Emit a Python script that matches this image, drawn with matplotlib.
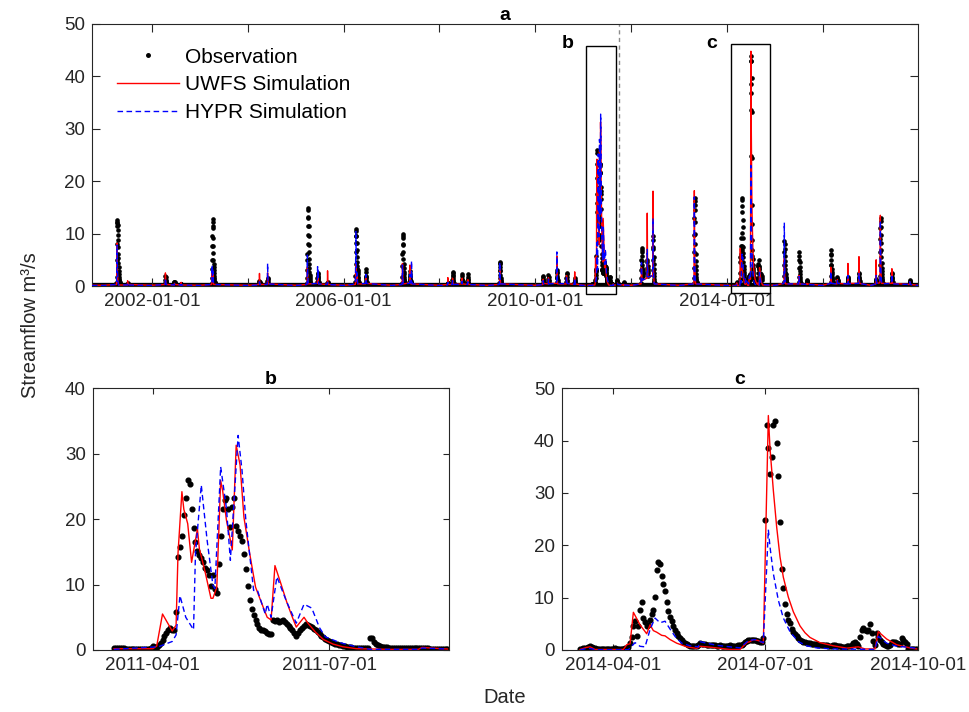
import numpy as np
import pandas as pd
import matplotlib
matplotlib.use('Agg')
import matplotlib.pyplot as plt
import matplotlib.dates as mdates
from matplotlib.patches import Rectangle

plt.rcParams['font.family'] = ['Liberation Sans', 'DejaVu Sans']

# ---------------- Panel b window (2011) ----------------
b_ref = '2011-03-01'
b_obs_start = '2011-03-12'
b_obs = [0.3, 0.3, 0.3, 0.25, 0.25, 0.25, 0.2, 0.2, 0.2, 0.2, 0.2, 0.2, 0.2, 0.2, 0.2, 0.2, 0.2, 0.2, 0.2,
         0.3, 0.6, 0.5, 0.5, 0.8, 1.1, 1.6, 2.1, 2.6, 3.0, 3.3, 3.0, 3.1, 5.8, 14.2, 15.8, 17.5, 20.6,
         23.2, 26.0, 25.4, 21.6, 18.7, 16.5, 15.1, 14.5, 14.0, 13.5, 12.6, 12.2, 11.5, 9.8, 11.5, 9.3,
         8.7, 13.2, 17.5, 21.6, 22.9, 23.2, 21.5, 18.8, 21.8, 23.3, 18.9, 18.2, 17.5, 16.6, 14.7, 12.4,
         9.8, 7.6, 6.2, 5.4, 4.6, 4.0, 3.3, 3.0, 3.0, 2.9, 2.6, 2.5, 2.4, 4.6, 4.4, 4.6, 4.3, 4.5, 4.6,
         4.3, 4.0, 3.7, 3.3, 3.0, 2.6, 2.2, 2.6, 3.0, 3.4, 3.6, 3.9, 3.8, 3.7, 3.5, 3.2, 3.0, 2.7, 2.5,
         2.2, 2.0, 1.7, 1.5, 1.3, 1.2, 1.0, 0.9, 0.85, 0.8, 0.7, 0.6, 0.55, 0.5, 0.45, 0.4,
         0.35, 0.35, 0.3, 0.3, 0.3, 0.3, 0.3, 0.3, 0.3, 1.8, 1.8, 1.2, 0.9, 0.7, 0.6, 0.5, 0.45, 0.4,
         0.4, 0.35, 0.3, 0.3, 0.3, 0.3, 0.3, 0.3, 0.3, 0.3, 0.3, 0.3, 0.25, 0.25, 0.25, 0.25, 0.25,
         0.25, 0.25, 0.25, 0.25, 0.25, 0.2, 0.2, 0.2, 0.2, 0.2, 0.2, 0.2, 0.2, 0.2, 0.2]
b_uwfs_day = [11, 31, 33, 36, 41, 43, 44, 46, 47, 49, 51, 54, 55, 58, 61, 62, 64, 66, 67, 69, 72, 74,
              76, 78, 81, 84, 88, 90, 92, 94, 97, 100, 103, 105, 109, 111, 115, 119, 124, 129, 136,
              153, 168, 170, 174, 183]
b_uwfs = [0.2, 0.2, 0.6, 5.5, 2.9, 3.8, 14.8, 24.2, 21.5, 19.3, 13.4, 18.5, 15.5, 11.9, 7.9, 7.9,
          9.6, 25.9, 24.4, 19.8, 15.3, 31.3, 28.3, 20.3, 14.7, 9.6, 6.5, 5.0, 4.6, 12.9, 10.2, 7.4,
          5.0, 3.5, 5.0, 4.1, 2.7, 1.6, 0.9, 0.5, 0.2, 0.1, 0.1, 0.4, 0.3, 0.15]
b_hypr_day = [11, 34, 41, 43, 45, 48, 52, 53, 56, 59, 62, 63, 66, 69, 71, 75, 77, 79, 83, 85, 89, 90,
              92, 95, 100, 105, 109, 113, 117, 120, 126, 129, 136, 143, 168, 170, 183]
b_hypr = [0.1, 0.5, 1.3, 2.3, 8.3, 5.0, 3.1, 14.7, 25.2, 16.8, 9.9, 9.4, 28.0, 21.6, 13.7, 32.8,
          27.5, 19.8, 9.1, 9.1, 5.5, 7.0, 5.0, 11.2, 7.4, 4.1, 7.0, 6.4, 3.4, 2.0, 1.3, 1.0, 0.5,
          0.1, 0.1, 0.3, 0.15]

# ---------------- Panel c window (2014) ----------------
c_ref = '2014-03-01'
c_obs_start = '2014-03-12'
c_obs = [0.2, 0.2, 0.3, 0.3, 0.4, 0.5, 0.7, 0.6, 0.4,
         0.3, 0.2, 0.2, 0.2, 0.2, 0.2, 0.2, 0.2, 0.2, 0.2, 0.2, 0.2, 0.3, 0.2, 0.2, 0.2, 0.2, 0.2, 0.3, 0.3,
         0.6, 1.3, 2.5, 4.5, 5.5, 2.7, 4.6, 7.7, 9.1, 6.1, 5.3, 4.5, 4.8, 5.7, 6.8, 7.7, 10.1, 15.2,
         16.8, 16.4, 14.1, 12.6, 11.3, 9.2, 7.5, 6.3, 5.5, 4.6, 3.9, 3.2, 2.7, 2.2, 1.9, 1.6, 1.4, 1.2,
         1.0, 0.8, 0.8, 0.8, 0.8, 0.8, 1.0, 1.3, 1.2, 1.2,
         1.1, 1.0, 1.0, 1.0, 0.9, 0.9, 0.9, 0.8, 0.8, 0.9, 0.8, 0.8, 0.7, 0.8, 0.8, 0.9, 0.8, 0.7, 0.7,
         0.8, 0.9, 0.9, 1.0, 1.2,
         1.5, 1.7, 1.9, 2.0, 2.0, 2.0, 1.9, 1.8, 1.7, 1.6, 1.5, 2.2,
         24.8, 42.9, 38.6, 33.6, 36.9, 42.9, 43.8, 39.6, 33.3, 24.5, 15.4, 11.9, 8.7, 6.8, 5.8, 5.1,
         4.1, 3.5, 3.0, 2.7, 2.3, 2.0, 1.8, 1.6, 1.5, 1.4, 1.3, 1.3, 1.2, 1.2, 1.1, 1.1, 1.0, 1.0, 1.0,
         0.9, 0.9, 0.9, 0.8, 0.8, 0.8, 0.9, 0.9, 0.8, 0.7, 0.7, 0.6, 0.6, 0.6, 0.7, 0.7, 0.8, 1.0,
         1.3, 1.5, 1.2, 0.8, 2.4, 3.9, 4.2, 3.9, 3.7, 3.9, 4.9, 3.3, 1.7, 1.0, 3.2, 2.5, 2.0, 1.6,
         1.2, 0.9, 0.8, 0.8, 0.9, 1.6, 1.6, 1.5, 1.3, 1.2, 1.2, 2.2, 2.0, 1.6, 1.2, 0.2,
         0.1, 0.1, 0.1, 0.1, 0.1]
c_uwfs_day = [11, 15, 17, 20, 37, 39, 41, 43, 47, 51, 53, 55, 57, 60, 62, 65, 69, 75, 81, 83, 87, 93,
              101, 107, 111, 113, 115, 118, 121, 124, 125, 127, 129, 131, 133, 136, 139, 143, 146,
              149, 155, 163, 171, 178, 182, 188, 190, 195, 201, 209, 213]
c_uwfs = [0.1, 0.5, 0.6, 0.1, 0.1, 1.0, 1.2, 7.2, 4.8, 3.1, 4.8, 3.7, 3.4, 2.8, 2.7, 2.0, 1.3, 0.6,
          0.3, 0.7, 0.6, 0.4, 0.1, 0.1, 1.4, 1.6, 2.0, 1.8, 1.3, 44.8, 38.5, 30.5, 23.5, 17.8, 13.9,
          10.1, 7.3, 4.6, 3.3, 2.4, 1.4, 0.8, 0.35, 0.6, 0.2, 0.2, 3.5, 2.1, 1.0, 0.4, 0.2]
c_hypr_day = [11, 15, 17, 20, 40, 44, 47, 50, 53, 56, 59, 62, 65, 68, 72, 77, 82, 83, 87, 93, 101,
              107, 112, 116, 121, 124, 125, 127, 130, 133, 137, 142, 147, 153, 163, 188, 190, 195,
              201, 209, 213]
c_hypr = [0.0, 0.3, 0.3, 0.05, 0.05, 1.4, 0.7, 0.6, 3.9, 6.1, 5.2, 5.5, 4.0, 2.6, 1.3, 0.8, 0.6,
          1.6, 1.3, 0.9, 0.6, 0.4, 1.8, 2.0, 1.4, 23.0, 19.7, 14.6, 9.5, 6.1, 3.5, 1.6, 0.8, 0.4,
          0.2, 0.1, 2.6, 1.3, 0.7, 0.5, 0.3]

# ---------------- Panel a: other flood events (start date, daily values) ----------------
a_event_start = ['2001-04-06', '2001-06-28', '2002-04-12', '2002-06-20', '2002-08-10', '2003-04-02',
                 '2004-03-29', '2004-05-30', '2005-03-28', '2005-06-15', '2005-08-30', '2006-04-01',
                 '2006-06-18', '2007-03-23', '2007-05-20', '2008-03-04', '2008-04-09', '2008-06-21',
                 '2008-08-04', '2009-04-03', '2010-03-01', '2010-04-10', '2010-06-13', '2010-08-26',
                 '2010-10-27', '2011-09-17', '2011-11-05', '2012-03-18', '2012-05-02', '2012-06-15',
                 '2013-04-24', '2015-03-12', '2015-07-03', '2015-09-01', '2016-03-01', '2016-04-20',
                 '2016-07-10', '2016-10-02', '2017-02-10', '2017-03-12', '2017-06-10', '2017-10-25']
a_event_obs = [
    [0.6, 1.7, 4.9, 8.1, 11.4, 12.6, 12.3, 12.0, 11.6, 10.7, 9.8, 8.8, 7.4, 6.2, 5.3, 4.4, 3.6, 2.9, 2.3, 1.8, 1.4, 1.1, 0.9, 0.7, 0.5, 0.4],
    [0.3, 0.5, 0.4],
    [0.5, 1.2, 2.0, 1.7, 1.2, 0.9, 0.7, 0.6, 0.5, 0.4],
    [0.5, 0.7, 0.8, 0.7, 0.6, 0.5],
    [0.3, 0.4, 0.3],
    [0.6, 1.5, 3.2, 5.0, 7.6, 9.6, 11.4, 12.7, 12.2, 11.0, 9.2, 7.6, 6.3, 5.0, 4.2, 3.6, 3.0, 2.5, 2.0, 1.6, 1.3, 1.0, 0.8, 0.6, 0.5],
    [0.4, 0.8, 1.0, 0.8, 0.6, 0.5],
    [0.5, 1.0, 1.6, 1.3, 0.9, 0.6, 0.4],
    [0.6, 1.6, 3.0, 5.0, 6.2, 8.1, 9.8, 11.4, 12.9, 14.8, 14.5, 13.2, 11.5, 9.6, 7.9, 6.4, 5.2, 4.2, 3.4, 2.7, 2.1, 1.7, 1.3, 1.0, 0.8, 0.6],
    [0.8, 1.5, 2.4, 2.0, 1.6, 2.2, 1.8, 1.3, 1.0, 0.8, 0.5],
    [0.4, 0.6, 0.8, 0.6, 0.5],
    [0.8, 2.0, 4.2, 6.5, 8.2, 9.6, 10.9, 10.5, 9.5, 8.2, 6.8, 5.6, 4.6, 3.8, 3.2, 2.8, 3.2, 3.0, 2.6, 2.2, 1.8, 1.5, 1.2, 1.0, 0.8, 0.6],
    [0.8, 1.8, 3.2, 2.6, 2.0, 1.5, 1.1, 0.8, 0.6],
    [0.6, 1.8, 3.8, 6.2, 8.1, 9.5, 9.9, 9.1, 7.8, 6.4, 5.2, 4.2, 3.4, 2.7, 2.2, 1.8, 1.4, 1.1, 0.9, 0.7, 0.5],
    [1.0, 2.0, 2.8, 2.2, 1.8, 1.4, 1.1, 0.9, 0.7, 0.6, 0.5],
    [0.4, 0.5, 0.6, 0.5],
    [0.5, 1.2, 2.0, 2.7, 2.5, 2.1, 1.6, 1.2, 0.9, 0.7, 0.5],
    [0.6, 1.2, 2.3, 1.9, 1.4, 1.0, 0.8, 0.5],
    [0.5, 1.4, 2.2, 1.7, 1.2, 0.8, 0.5],
    [0.6, 1.5, 3.0, 4.2, 4.6, 4.3, 3.6, 2.8, 2.1, 1.6, 1.2, 0.9, 0.7, 0.5],
    [0.5, 1.2, 2.0, 1.8, 1.3, 0.9, 0.6],
    [0.6, 1.4, 2.1, 1.7, 1.2, 0.9, 0.6],
    [0.8, 1.5, 2.5, 3.0, 2.6, 2.0, 1.5, 1.1, 0.8, 0.6],
    [0.7, 1.5, 2.5, 2.2, 1.7, 1.2, 0.9, 0.6],
    [0.5, 1.0, 1.5, 1.2, 0.8, 0.5],
    [0.5, 0.9, 1.1, 0.9, 0.6, 0.4],
    [0.5, 0.8, 0.6, 0.4],
    [0.6, 1.5, 3.0, 5.0, 6.5, 7.2, 6.8, 5.8, 4.8, 4.0, 3.4, 3.0, 2.6, 2.3, 2.0],
    [2.5, 3.5, 5.0, 4.5, 3.8, 3.2, 2.8, 2.4, 2.0],
    [3.0, 5.0, 7.5, 9.5, 8.8, 7.0, 5.5, 4.2, 3.2, 2.5, 1.9, 1.4, 1.0, 0.8, 0.6],
    [0.6, 1.5, 3.5, 6.5, 9.8, 13.0, 15.5, 16.7, 16.2, 14.5, 12.3, 10.0, 8.0, 6.2, 4.8, 3.8, 3.0, 2.3, 1.8, 1.4, 1.1, 0.8, 0.6, 0.5],
    [0.8, 2.0, 4.0, 6.5, 8.5, 8.0, 7.0, 5.8, 4.8, 4.0, 3.3, 2.7, 2.2, 1.8, 1.5, 1.3, 1.1, 1.0, 0.9, 0.8, 0.6],
    [0.8, 1.8, 3.5, 5.0, 6.4, 5.8, 4.6, 3.6, 2.8, 2.2, 1.7, 1.3, 1.0, 0.8, 0.6],
    [0.6, 1.0, 1.2, 1.0, 0.8, 0.6],
    [0.8, 2.0, 4.0, 6.0, 6.9, 6.2, 5.0, 4.0, 3.2, 2.6, 2.2, 1.8, 1.5, 1.3, 1.1, 0.9, 0.8],
    [0.8, 1.3, 1.8, 1.5, 1.2, 1.0, 0.8],
    [1.0, 1.3, 1.8, 1.6, 1.3, 1.0, 0.7],
    [0.8, 1.5, 2.5, 2.2, 1.8, 1.4, 1.1, 0.9, 0.6],
    [0.5, 0.9, 1.4, 1.2, 0.9, 0.7, 0.5],
    [0.8, 2.0, 4.0, 6.5, 9.0, 11.0, 12.9, 12.5, 11.3, 9.8, 8.2, 6.8, 5.5, 4.4, 3.5, 2.8, 2.2, 1.8, 1.4, 1.1, 0.9, 0.6],
    [0.8, 1.5, 2.5, 2.2, 1.7, 1.3, 1.0, 0.7],
    [0.4, 0.8, 1.2, 1.0, 0.7, 0.5],
]
a_event_uwfs = [
    [0.3, 0.8, 2.5, 6.0, 8.2, 6.5, 4.5, 3.2, 2.3, 1.7, 1.3, 1.0, 0.8, 0.6, 0.5, 0.4, 0.3, 0.2],
    [0.2, 0.6, 1.0, 0.6, 0.3],
    [0.3, 1.0, 2.5, 1.6, 1.0, 0.7, 0.5, 0.4, 0.3],
    [0.2, 0.4, 0.5, 0.4, 0.3],
    [0.2, 0.5, 0.7, 0.4, 0.2],
    [0.3, 1.0, 2.8, 2.0, 1.5, 3.1, 2.2, 1.5, 1.0, 2.5, 1.6, 1.0, 0.7, 0.5, 0.4, 0.3],
    [0.3, 1.2, 2.4, 1.5, 0.8, 0.5, 0.3],
    [0.3, 1.2, 2.5, 1.6, 1.0, 0.6, 0.4],
    [0.3, 0.8, 2.0, 3.7, 2.6, 1.8, 1.3, 1.0, 0.8, 0.6, 0.5, 0.4],
    [0.5, 1.2, 2.0, 1.5, 1.0, 1.8, 1.3, 0.9, 0.6, 0.4],
    [0.3, 1.2, 2.9, 1.6, 0.8, 0.5, 0.3],
    [0.3, 1.0, 2.5, 4.5, 3.5, 2.6, 2.0, 1.6, 1.3, 1.1, 1.0, 2.0, 1.6, 1.2, 0.9, 0.7, 0.5, 0.4],
    [0.4, 0.8, 1.5, 1.1, 0.8, 0.5],
    [0.3, 1.0, 2.5, 4.3, 3.2, 2.2, 1.5, 1.1, 0.8, 0.6, 0.5, 0.4],
    [0.6, 2.0, 4.0, 2.6, 1.7, 1.2, 0.9, 0.7, 0.5, 0.4],
    [0.3, 1.0, 1.6, 0.9, 0.5, 0.3],
    [0.3, 0.8, 1.5, 1.0, 0.7, 0.5, 0.3],
    [0.4, 1.0, 1.5, 1.0, 0.6, 0.4],
    [0.3, 0.8, 1.2, 0.8, 0.5, 0.3],
    [0.3, 1.0, 2.5, 4.0, 3.0, 2.0, 1.4, 1.0, 0.7, 0.5, 0.4],
    [0.3, 0.8, 1.3, 0.8, 0.5],
    [0.4, 1.0, 1.6, 1.1, 0.7, 0.5],
    [0.5, 2.0, 5.7, 3.5, 2.2, 1.4, 0.9, 0.6, 0.4],
    [0.4, 1.2, 2.0, 1.4, 0.9, 0.5],
    [0.3, 1.2, 2.7, 1.5, 0.8, 0.4],
    [0.3, 0.5, 0.6, 0.4, 0.3],
    [0.2, 0.3, 0.2],
    [0.4, 1.2, 2.5, 3.5, 2.8, 2.2, 1.8, 1.5, 1.3, 1.1],
    [1.5, 5.0, 13.9, 8.0, 5.0, 3.5, 2.6, 2.0, 1.6],
    [2.0, 6.0, 18.1, 10.0, 6.0, 4.0, 2.8, 2.0, 1.5, 1.1, 0.8, 0.6, 0.4],
    [0.4, 1.5, 4.5, 10.0, 18.2, 13.0, 8.5, 5.8, 4.0, 2.8, 2.0, 1.4, 1.0, 0.7, 0.5, 0.4],
    [0.5, 1.5, 3.5, 5.3, 4.0, 3.0, 2.2, 1.6, 1.2, 0.9, 0.7, 0.5, 0.4],
    [0.4, 1.0, 2.0, 1.5, 1.0, 0.7, 0.5, 0.4],
    [0.3, 0.5, 0.4],
    [0.5, 1.5, 3.6, 2.5, 1.7, 1.2, 0.9, 0.7, 0.5],
    [0.4, 0.8, 1.2, 0.8, 0.5],
    [0.4, 1.5, 4.3, 2.5, 1.4, 0.8, 0.5],
    [0.5, 2.0, 5.6, 3.2, 1.9, 1.2, 0.8, 0.5],
    [0.4, 1.8, 5.0, 2.8, 1.6, 1.0, 0.7, 0.5],
    [0.6, 2.0, 5.0, 9.5, 13.5, 9.8, 7.0, 5.0, 3.6, 2.6, 1.9, 1.4, 1.0, 0.7, 0.5],
    [0.5, 1.5, 3.3, 2.0, 1.3, 0.8, 0.5],
    [0.3, 0.6, 0.8, 0.6, 0.3],
]
a_event_hypr = [
    [0.3, 0.7, 2.2, 5.5, 7.8, 6.2, 4.4, 3.1, 2.2, 1.6, 1.2, 0.9, 0.7, 0.5, 0.4, 0.3, 0.2],
    [0.2, 0.4, 0.6, 0.4, 0.2],
    [0.3, 0.7, 1.5, 1.2, 0.8, 0.5, 0.3],
    [0.2, 0.3, 0.4, 0.3],
    [0.2, 0.3, 0.2],
    [0.3, 0.8, 2.5, 4.0, 3.0, 2.0, 3.4, 2.5, 1.5, 1.0, 2.8, 2.0, 1.2, 0.8, 0.5, 0.3],
    [0.2, 0.5, 0.8, 0.5, 0.3],
    [0.3, 1.5, 4.3, 2.5, 1.3, 0.7, 0.4],
    [0.3, 1.0, 3.0, 5.9, 4.0, 2.6, 1.8, 1.3, 1.0, 0.7, 0.5, 0.4],
    [0.5, 1.5, 3.7, 2.5, 1.6, 3.2, 2.2, 1.4, 0.9, 0.6, 0.4],
    [0.3, 0.5, 0.7, 0.5, 0.3],
    [0.4, 1.5, 4.0, 7.5, 10.4, 8.0, 5.5, 4.0, 3.0, 2.3, 1.8, 1.5, 2.5, 2.0, 1.5, 1.2, 0.9, 0.7, 0.5, 0.4],
    [0.5, 1.2, 2.2, 1.6, 1.1, 0.7, 0.5],
    [0.3, 1.0, 2.5, 4.0, 3.0, 2.1, 1.5, 1.1, 0.8, 0.6, 0.4],
    [0.5, 1.2, 2.2, 1.6, 1.2, 1.0, 0.8, 0.7, 0.6, 0.6, 0.6, 0.7, 1.0, 2.5, 4.8, 3.2, 2.0, 1.3, 0.9, 0.6, 0.4],
    [0.2, 0.5, 0.7, 0.5, 0.3],
    [0.3, 0.6, 1.0, 0.8, 0.5, 0.3],
    [0.3, 0.6, 0.9, 0.6, 0.4],
    [0.3, 0.5, 0.8, 0.5, 0.3],
    [0.3, 1.0, 2.8, 4.5, 3.3, 2.2, 1.5, 1.0, 0.7, 0.5, 0.4],
    [0.3, 0.6, 1.0, 0.7, 0.4],
    [0.4, 0.9, 1.3, 0.9, 0.6, 0.4],
    [0.5, 2.0, 6.5, 4.0, 2.5, 1.6, 1.0, 0.7, 0.5],
    [0.4, 1.0, 1.7, 1.2, 0.8, 0.5],
    [0.3, 0.8, 1.5, 1.0, 0.6, 0.3],
    [0.3, 0.4, 0.5, 0.4, 0.3],
    [0.2, 0.3, 0.2],
    [0.4, 1.5, 3.5, 4.5, 3.4, 2.6, 2.0, 1.6, 1.3, 1.1],
    [1.5, 3.5, 7.0, 5.0, 3.6, 2.7, 2.1, 1.7],
    [2.0, 5.0, 12.9, 7.5, 4.8, 3.3, 2.4, 1.8, 1.3, 1.0, 0.7, 0.5, 0.4],
    [0.4, 1.3, 4.0, 9.0, 17.0, 12.5, 8.0, 5.5, 3.8, 2.6, 1.8, 1.3, 0.9, 0.6, 0.4],
    [0.5, 2.5, 7.0, 12.1, 8.0, 5.2, 3.5, 2.4, 1.7, 1.3, 1.0, 0.8, 0.6, 0.4],
    [0.4, 1.0, 1.8, 1.4, 1.0, 0.7, 0.5, 0.4],
    [0.3, 0.4, 0.3],
    [0.5, 1.2, 2.8, 2.0, 1.4, 1.0, 0.7, 0.5],
    [0.4, 0.7, 1.0, 0.7, 0.5],
    [0.4, 1.0, 2.0, 1.4, 0.9, 0.6, 0.4],
    [0.5, 1.2, 2.5, 1.8, 1.2, 0.8, 0.5],
    [0.4, 1.0, 2.0, 1.4, 0.9, 0.5],
    [0.6, 1.8, 4.5, 8.5, 12.5, 9.0, 6.5, 4.7, 3.4, 2.5, 1.8, 1.3, 0.9, 0.6, 0.4],
    [0.5, 1.2, 2.2, 1.6, 1.0, 0.7, 0.4],
    [0.3, 0.6, 0.8, 0.6, 0.3],
]
# low-flow (baseflow) levels between events
a_base_dates = ['2000-10-01', '2001-01-01', '2002-01-01', '2003-01-01', '2004-01-01', '2005-01-01',
                '2006-01-01', '2007-01-01', '2008-01-01', '2009-01-01', '2010-01-01', '2011-01-01',
                '2012-01-01', '2013-01-01', '2014-01-01', '2015-01-01', '2016-01-01', '2017-01-01',
                '2017-12-31']
a_base_obs = [0.3, 0.3, 0.3, 0.3, 0.3, 0.3, 0.3, 0.3, 0.3, 0.3, 0.3, 0.3, 0.3, 0.3, 0.3, 0.3, 0.3, 0.3, 0.3]
a_base_uwfs = [0.15, 0.15, 0.15, 0.15, 0.15, 0.15, 0.15, 0.15, 0.15, 0.15, 0.15, 0.15, 0.15, 0.15, 0.15,
               0.15, 0.15, 0.15, 0.15]
a_base_hypr = [0.1, 0.1, 0.1, 0.1, 0.1, 0.1, 0.1, 0.1, 0.1, 0.1, 0.1, 0.1, 0.1, 0.1, 0.1, 0.1, 0.1, 0.1, 0.1]

# ---------------- helpers ----------------
def expand(starts, series):
    d, v = [], []
    for s, vals in zip(starts, series):
        d.extend(pd.date_range(s, periods=len(vals), freq='D'))
        v.extend(vals)
    return d, v

def from_days(ref, days):
    return list(pd.Timestamp(ref) + pd.to_timedelta(days, unit='D'))

def merged(parts):
    d, v = [], []
    for pd_, pv in parts:
        d.extend(pd_); v.extend(pv)
    order = np.argsort(np.array(d, dtype='datetime64[ns]'))
    return np.array(d, dtype='datetime64[ns]')[order], np.array(v)[order]

b_obs_d = list(pd.date_range(b_obs_start, periods=len(b_obs), freq='D'))
c_obs_d = list(pd.date_range(c_obs_start, periods=len(c_obs), freq='D'))
b_uwfs_d = from_days(b_ref, b_uwfs_day)
b_hypr_d = from_days(b_ref, b_hypr_day)
c_uwfs_d = from_days(c_ref, c_uwfs_day)
c_hypr_d = from_days(c_ref, c_hypr_day)

ev_obs_d, ev_obs_v = expand(a_event_start, a_event_obs)
ev_uwfs_d, ev_uwfs_v = expand(a_event_start, a_event_uwfs)
ev_hypr_d, ev_hypr_v = expand(a_event_start, a_event_hypr)
base_d = list(pd.to_datetime(a_base_dates))

a_obs_d, a_obs_v = merged([(ev_obs_d, ev_obs_v), (b_obs_d, b_obs), (c_obs_d, c_obs)])
a_uwfs_d, a_uwfs_v = merged([(base_d, a_base_uwfs), (ev_uwfs_d, ev_uwfs_v), (b_uwfs_d, b_uwfs), (c_uwfs_d, c_uwfs)])
a_hypr_d, a_hypr_v = merged([(base_d, a_base_hypr), (ev_hypr_d, ev_hypr_v), (b_hypr_d, b_hypr), (c_hypr_d, c_hypr)])

# ---------------- figure ----------------
DARK = '#262626'
RED = '#ff0000'
BLUE = '#0000ff'
fig = plt.figure(figsize=(9.7, 7.12), dpi=100)
axA = fig.add_axes([0.0948, 0.5983, 0.8520, 0.3680])
axB = fig.add_axes([0.0956, 0.0871, 0.3677, 0.3675])
axC = fig.add_axes([0.5791, 0.0871, 0.3676, 0.3675])

def style(ax, ticklen):
    ax.tick_params(direction='in', top=True, right=True, length=ticklen, width=0.8,
                   colors=DARK, labelsize=13.5, pad=5)
    for s in ax.spines.values():
        s.set_color(DARK)
        s.set_linewidth(0.8)

# panel a
axA.plot(base_d, a_base_obs, color='k', lw=2.4, solid_capstyle='butt', zorder=1)
lo, = axA.plot(a_obs_d, a_obs_v, linestyle='none', marker='o', ms=2.3, mfc='k', mec='k', color='k',
               zorder=2, label='Observation')
lu, = axA.plot(a_uwfs_d, a_uwfs_v, color=RED, lw=1.0, zorder=3, label='UWFS Simulation')
lh, = axA.plot(a_hypr_d, a_hypr_v, color=BLUE, lw=1.0, dashes=(4, 2.5), zorder=4, label='HYPR Simulation')
axA.set_xlim(pd.Timestamp('2000-10-01'), pd.Timestamp('2017-12-31'))
axA.set_ylim(0, 50)
axA.set_yticks([0, 10, 20, 30, 40, 50])
a_ticks = pd.to_datetime(['2002-01-01', '2004-01-01', '2006-01-01', '2008-01-01', '2010-01-01',
                          '2012-01-01', '2014-01-01', '2016-01-01'])
a_ticklabels = ['2002-01-01', '', '2006-01-01', '', '2010-01-01', '', '2014-01-01', '']
axA.set_xticks(a_ticks)
axA.set_xticklabels(a_ticklabels)
style(axA, 6)
axA.set_title('a', fontsize=14, fontweight='bold', pad=3, color='k')
axA.axvline(pd.Timestamp('2011-10-01'), color='0.55', lw=1.0, dashes=(3, 2.5), zorder=0)

def box(ax, d0, d1, y0, y1):
    x0 = mdates.date2num(pd.Timestamp(d0))
    x1 = mdates.date2num(pd.Timestamp(d1))
    ax.add_patch(Rectangle((x0, y0), x1 - x0, y1 - y0, fill=False, ec='k', lw=1.0,
                           clip_on=False, zorder=5))

box(axA, '2011-01-22', '2011-09-09', -1.5, 45.8)
box(axA, '2014-02-03', '2014-11-22', -1.3, 46.2)
axA.text(pd.Timestamp('2010-09-02'), 46.3, 'b', fontsize=14, fontweight='bold', ha='center', va='center')
axA.text(pd.Timestamp('2013-09-09'), 46.3, 'c', fontsize=14, fontweight='bold', ha='center', va='center')

leg = axA.legend(handles=[lo, lu, lh], loc='upper left', bbox_to_anchor=(0.030, 0.91),
                 frameon=False, fontsize=15, handlelength=3.0, handletextpad=0.3,
                 labelspacing=0.42, borderpad=0, borderaxespad=0, numpoints=1, markerscale=1.1)

# panel b
axB.plot(b_obs_d, b_obs, linestyle='none', marker='o', ms=3.4, mfc='k', mec='k', zorder=2)
axB.plot(b_uwfs_d, b_uwfs, color=RED, lw=1.0, zorder=3)
axB.plot(b_hypr_d, b_hypr, color=BLUE, lw=1.0, dashes=(4, 2.5), zorder=4)
axB.set_xlim(pd.Timestamp('2011-03-01'), pd.Timestamp('2011-09-01'))
axB.set_ylim(0, 40)
axB.set_yticks([0, 10, 20, 30, 40])
axB.set_xticks(pd.to_datetime(['2011-04-01', '2011-07-01']))
axB.xaxis.set_major_formatter(mdates.DateFormatter('%Y-%m-%d'))
style(axB, 4)
axB.set_title('b', fontsize=14, fontweight='bold', pad=3, color='k')

# panel c
axC.plot(c_obs_d, c_obs, linestyle='none', marker='o', ms=3.4, mfc='k', mec='k', zorder=2)
axC.plot(c_uwfs_d, c_uwfs, color=RED, lw=1.0, zorder=3)
axC.plot(c_hypr_d, c_hypr, color=BLUE, lw=1.0, dashes=(4, 2.5), zorder=4)
axC.set_xlim(pd.Timestamp('2014-03-01'), pd.Timestamp('2014-10-01'))
axC.set_ylim(0, 50)
axC.set_yticks([0, 10, 20, 30, 40, 50])
axC.set_xticks(pd.to_datetime(['2014-04-01', '2014-07-01', '2014-10-01']))
axC.xaxis.set_major_formatter(mdates.DateFormatter('%Y-%m-%d'))
style(axC, 4)
axC.set_title('c', fontsize=14, fontweight='bold', pad=3, color='k')

fig.text(0.031, 0.543, 'Streamflow m³/s', rotation=90, ha='center', va='center', fontsize=14.5, color=DARK)
fig.text(0.5206, 0.021, 'Date', ha='center', va='center', fontsize=14.5, color=DARK)

fig.savefig('out.png', dpi=100)
